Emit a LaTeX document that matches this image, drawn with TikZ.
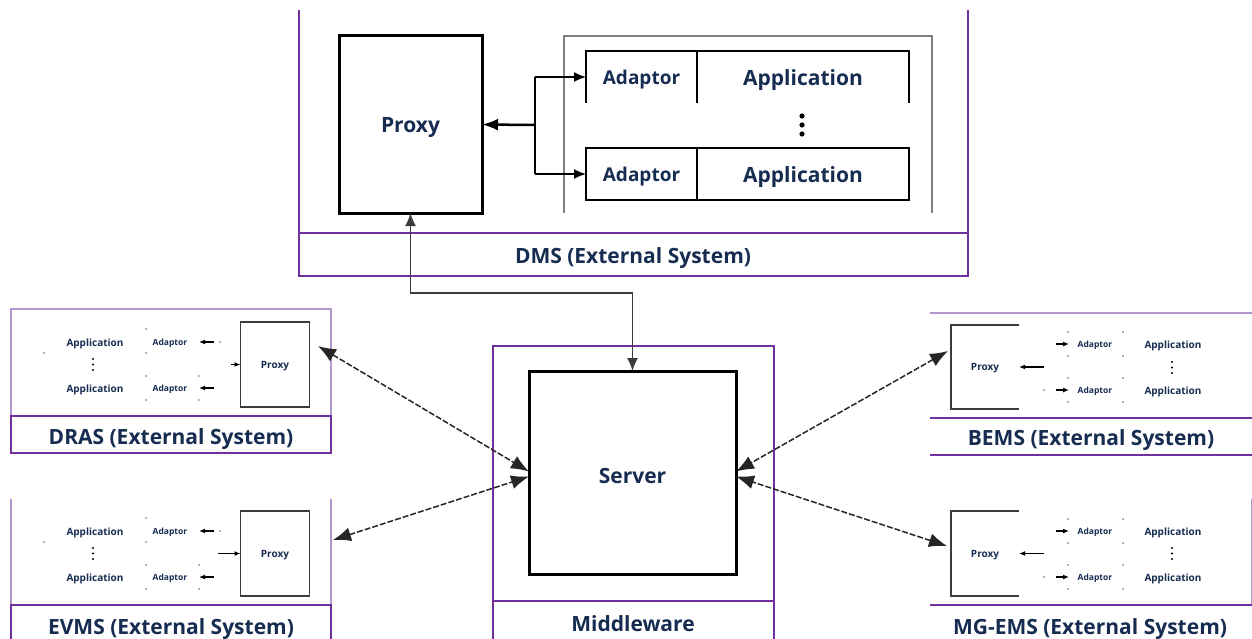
\documentclass[tikz,border=0pt]{standalone}
\usepackage{fontspec}
\setmainfont{Open Sans}
\usetikzlibrary{arrows.meta,calc}
\definecolor{navy}{RGB}{22,44,80}
\definecolor{purp}{RGB}{112,48,160}
\definecolor{lpurp}{RGB}{178,150,208}
\definecolor{boxgray}{RGB}{128,128,128}
\definecolor{dgray}{RGB}{60,60,60}
\tikzset{
  frame/.style={draw=purp,line width=2pt},
  lframe/.style={draw=lpurp,line width=2pt},
  txt/.style={text=navy,font=\bfseries\fontsize{21}{25}\selectfont,inner sep=0pt,yshift=-3pt},
  lbl/.style={txt},
  smalltxt/.style={text=navy,font=\bfseries\fontsize{10}{12}\selectfont,inner sep=0pt,yshift=-1.5pt},
  tinytxt/.style={text=navy,font=\bfseries\fontsize{8.5}{10}\selectfont,inner sep=0pt,yshift=-1.5pt},
  heavybox/.style={draw=black,line width=3pt,inner sep=0pt,outer sep=0pt},
  cellbox/.style={draw=black,line width=2pt,inner sep=0pt,outer sep=0pt},
  slot/.style={inner sep=0pt,outer sep=0pt},
  minibox/.style={draw=dgray,line width=1.5pt,inner sep=0pt,outer sep=0pt},
  bigtip/.style={-{Latex[length=16pt,width=12pt]},line width=2.5pt},
  fantip/.style={-{Latex[length=12pt,width=10pt]},line width=1.5pt,draw=black},
  linktip/.style={{Latex[length=13pt,width=11pt]}-{Latex[length=13pt,width=11pt]},draw=dgray,line width=1.5pt},
  remote/.style={{Latex[length=18pt,width=14pt]}-{Latex[length=18pt,width=14pt]},draw=black!85,line width=1.5pt,dash pattern=on 6pt off 2pt},
  smalltip/.style={-{Latex[length=6pt,width=5pt]},line width=1.3pt,draw=black},
  speck/.style={fill=black!60},
}
\begin{document}
\begin{tikzpicture}[x=1pt,y=-1pt]
\useasboundingbox (0,0) rectangle (1252,639);

% ---------------- DMS ----------------
\draw[frame] (299,10) -- (299,276) -- (968,276) -- (968,10);
\draw[frame] (299,233) -- (968,233);
\node[lbl] (dmslabel) at (633,255) {DMS (External System)};

\node[heavybox,minimum width=143,minimum height=177] (dproxy) at (410.5,124.5) {};
\node[txt] (dproxytxt) at (dproxy.center) {Proxy};

\draw[draw=boxgray,line width=2pt] (564,213) -- (564,36) -- (932,36) -- (932,213);

% upper adaptor/application row (open at the bottom)
\node[slot,minimum width=111,minimum height=52] (ad1) at (641.5,77) {};
\node[slot,minimum width=212,minimum height=52] (ap1) at (803,77) {};
\draw[black,line width=2pt] (ad1.south west) -- (ad1.north west) -- (ap1.north east) -- (ap1.south east);
\draw[black,line width=2pt] (ad1.north east) -- (ad1.south east);
\node[txt,font=\bfseries\fontsize{19}{23}\selectfont] (ad1t) at (ad1.center) {Adaptor};
\node[txt] (ap1t) at (ap1.center) {Application};

% lower adaptor/application row
\node[cellbox,minimum width=111,minimum height=52] (ad2) at (641.5,174) {};
\node[cellbox,minimum width=212,minimum height=52] (ap2) at (803,174) {};
\node[txt,font=\bfseries\fontsize{19}{23}\selectfont] (ad2t) at (ad2.center) {Adaptor};
\node[txt] (ap2t) at (ap2.center) {Application};

\foreach \yy in {116,125,134} \fill (802,\yy) circle (2.6pt);

% proxy <-> adaptors
\coordinate (jn) at (535,125);
\draw[bigtip] (jn) -- (dproxy.east);
\draw[black,line width=1.5pt] (ad1.west -| jn) -- (ad2.west -| jn);
\draw[fantip] (ad1.west -| jn) -- (ad1.west);
\draw[fantip] (ad2.west -| jn) -- (ad2.west);

% ---------------- Middleware ----------------
\draw[frame] (493,639) -- (493,346) -- (774,346) -- (774,639);
\draw[frame] (493,601) -- (774,601);
\node[lbl] (mwlabel) at (633,621) {Middleware};
\node[heavybox,minimum width=207,minimum height=203] (server) at (632.5,472.5) {};
\node[txt] (servertxt) at (server.center) {Server};

% DMS proxy <-> server
\coordinate (bend) at (410.5,293);
\draw[linktip] (dproxy.south) -- (bend) -| (server.north);

% ---------------- DRAS ----------------
\draw[lframe] (11,309) rectangle (331,416);
\draw[frame] (11,416) rectangle (331,453);
\node[lbl] (draslabel) at (171,436) {DRAS (External System)};
\node[minibox,minimum width=69,minimum height=85] (drproxy) at (275,364.5) {};
\node[smalltxt] (drproxyt) at (drproxy.center) {Proxy};
\node[smalltxt] (drap1) at (95,342) {Application};
\node[smalltxt] (drap2) at (95,388) {Application};
\foreach \yy in {359,364.5,370} \fill (93,\yy) circle (1.1pt);
\node[tinytxt] (drad1) at (170,342) {Adaptor};
\node[tinytxt] (drad2) at (170,388) {Adaptor};
\coordinate (dra1s) at (214,342); \coordinate (dra1e) at (199,342);
\coordinate (dra2s) at (214,388); \coordinate (dra2e) at (199,388);
\draw[smalltip] (dra1s) -- (dra1e);
\draw[smalltip] (dra2s) -- (dra2e);
\coordinate (drin) at (231,364.5);
\draw[smalltip] (drin) -- (drproxy.west);
\foreach \p in {(44,353),(146,329),(146,353),(146,376),(146,400),(199,376),(199,400),(220,342)}
  \fill[speck] \p circle (0.8pt);

% ---------------- EVMS ----------------
\draw[lframe] (11,499) -- (11,605) -- (331,605) -- (331,499);
\draw[frame] (11,639) -- (11,605) -- (331,605) -- (331,639);
\node[lbl] (evlabel) at (171,626) {EVMS (External System)};
\node[minibox,minimum width=69,minimum height=85] (evproxy) at (275,553.5) {};
\node[smalltxt] (evproxyt) at (evproxy.center) {Proxy};
\node[smalltxt] (evap1) at (95,531) {Application};
\node[smalltxt] (evap2) at (95,577) {Application};
\foreach \yy in {548,553.5,559} \fill (93,\yy) circle (1.1pt);
\node[tinytxt] (evad1) at (170,531) {Adaptor};
\node[tinytxt] (evad2) at (170,577) {Adaptor};
\coordinate (eva1s) at (214,531); \coordinate (eva1e) at (199,531);
\coordinate (eva2s) at (214,577); \coordinate (eva2e) at (199,577);
\draw[smalltip] (eva1s) -- (eva1e);
\draw[smalltip] (eva2s) -- (eva2e);
\coordinate (evin) at (218,553.5);
\draw[smalltip] (evin) -- (evproxy.west);
\foreach \p in {(44,542),(146,518),(146,542),(146,565),(146,589),(199,565),(199,589),(220,531)}
  \fill[speck] \p circle (0.8pt);

% ---------------- BEMS ----------------
\draw[lframe] (930,313) -- (1252,313);
\draw[frame] (930,418) -- (1252,418);
\draw[frame] (930,455) -- (1252,455);
\node[lbl] (bemslabel) at (1091,437) {BEMS (External System)};
\node[slot,minimum width=68,minimum height=84] (beproxy) at (985,367) {};
\draw[dgray,line width=1.5pt] (beproxy.north east) -- (beproxy.north west) -- (beproxy.south west) -- (beproxy.south east);
\node[smalltxt] (beproxyt) at (beproxy.center) {Proxy};
\coordinate (bein) at (1044,367);
\draw[smalltip] (bein) -- (beproxy.east);
\node[tinytxt] (bead1) at (1095,344) {Adaptor};
\node[tinytxt] (bead2) at (1095,390) {Adaptor};
\coordinate (bea1s) at (1056,344); \coordinate (bea1e) at (1069,344);
\coordinate (bea2s) at (1056,390); \coordinate (bea2e) at (1069,390);
\draw[smalltip] (bea1s) -- (bea1e);
\draw[smalltip] (bea2s) -- (bea2e);
\node[smalltxt] (beap1) at (1173,344) {Application};
\node[smalltxt] (beap2) at (1173,390) {Application};
\foreach \yy in {362,367.5,373} \fill (1172,\yy) circle (1.1pt);
\foreach \p in {(1068,332),(1068,356),(1068,378),(1068,402),(1123,332),(1123,356),(1123,378),(1123,402),(1044,390)}
  \fill[speck] \p circle (0.8pt);

% ---------------- MG-EMS ----------------
\draw[lframe] (1252,499) -- (1252,605);
\draw[frame] (930,605) -- (1252,605);
\node[lbl] (mglabel) at (1090,626) {MG-EMS (External System)};
\node[slot,minimum width=68,minimum height=85] (mgproxy) at (985,553.5) {};
\draw[dgray,line width=1.5pt] (mgproxy.north east) -- (mgproxy.north west) -- (mgproxy.south west) -- (mgproxy.south east);
\node[smalltxt] (mgproxyt) at (mgproxy.center) {Proxy};
\coordinate (mgin) at (1044,553.5);
\draw[smalltip] (mgin) -- (mgproxy.east);
\node[tinytxt] (mgad1) at (1095,531) {Adaptor};
\node[tinytxt] (mgad2) at (1095,577) {Adaptor};
\coordinate (mga1s) at (1056,531); \coordinate (mga1e) at (1069,531);
\coordinate (mga2s) at (1056,577); \coordinate (mga2e) at (1069,577);
\draw[smalltip] (mga1s) -- (mga1e);
\draw[smalltip] (mga2s) -- (mga2e);
\node[smalltxt] (mgap1) at (1173,531) {Application};
\node[smalltxt] (mgap2) at (1173,577) {Application};
\foreach \yy in {548,553.5,559} \fill (1172,\yy) circle (1.1pt);
\foreach \p in {(1068,519),(1068,543),(1068,565),(1068,589),(1123,519),(1123,543),(1123,565),(1123,589),(1044,577)}
  \fill[speck] \p circle (0.8pt);

% ---------------- links to the server ----------------
\coordinate (drport) at (318,346);
\coordinate (evport) at (333,540);
\coordinate (beport) at (948,351);
\coordinate (mgport) at (947,546);
\draw[remote] (drport) -- ([yshift=1pt]server.west);
\draw[remote] (evport) -- ([yshift=-4pt]server.west);
\draw[remote] (beport) -- ([yshift=1pt]server.east);
\draw[remote] (mgport) -- ([yshift=-4pt]server.east);
\end{tikzpicture}
\end{document}
